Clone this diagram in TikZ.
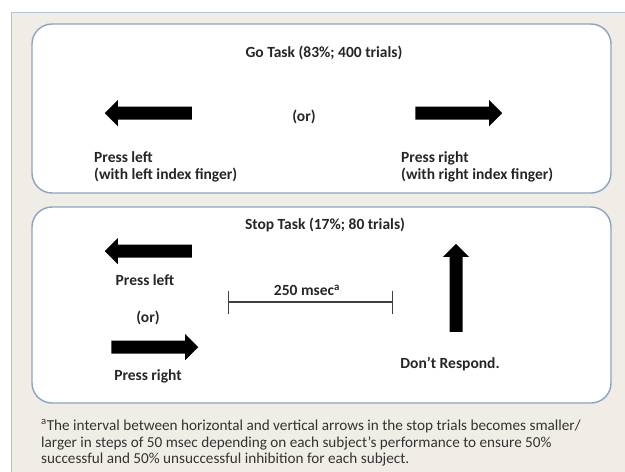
\documentclass[tikz,border=0pt]{standalone}
\usepackage{fontspec}
\setmainfont{Carlito}
\usetikzlibrary{shapes.arrows,arrows.meta}
\definecolor{beige}{HTML}{EFEDE5}
\definecolor{frameblue}{HTML}{B3C3D5}
\definecolor{boxblue}{HTML}{8DA3BF}
\tikzset{
  lbl/.style={font=\bfseries\fontsize{15.5}{17.5}\selectfont, inner sep=0pt, text=black!85},
  note/.style={font=\fontsize{15.2}{17}\selectfont, inner sep=0pt, anchor=west, text=black!80},
  blockarrow/.style={single arrow, fill=black, draw=none, inner sep=6.3pt,
    single arrow head extend=6.7pt, minimum height=87pt},
  panel/.style={draw=boxblue, line width=1.4pt, fill=white, rounded corners=20pt}
}
\begin{document}
\begin{tikzpicture}[x=1pt,y=-1pt]
\useasboundingbox (0,0) rectangle (625,472);
% background frame
\fill[beige] (11,12) rectangle (625,472);
\draw[frameblue, line width=0.8pt] (11,472) -- (11,12) -- (625,12);
% panels
\draw[panel] (32,24) rectangle (611,193);
\draw[panel] (32,207) rectangle (611,403);

% Go task
\node[lbl] (gotitle) at (324,53) {Go Task (83\%; 400 trials)};
\node[blockarrow, rotate=180] (goleft) at (151.5,113) {};
\node[blockarrow] (goright) at (455.5,113) {};
\node[lbl] (goor) at (304,117) {(or)};
\node[lbl, align=left, anchor=west] (goleftlbl) at (94,167) {Press left\\(with left index finger)};
\node[lbl, align=left, anchor=west] (gorightlbl) at (401,167) {Press right\\(with right index finger)};

% Stop task
\node[lbl] (stoptitle) at (325,225) {Stop Task (17\%; 80 trials)};
\node[blockarrow, rotate=180] (stopleft) at (151.5,251) {};
\node[lbl] (stopleftlbl) at (145,280) {Press left};
\node[lbl] (stopor) at (148,318) {(or)};
\node[blockarrow] (stopright) at (151.5,347) {};
\node[lbl] (stoprightlbl) at (148,376) {Press right};
\coordinate (ivl) at (228,302);
\coordinate (ivr) at (393,302);
\draw[black!75, line width=1.1pt, {Bar[width=23pt]}-{Bar[width=23pt]}] (ivl) -- (ivr);
\node[lbl] (interval) at (307,290) {250 msec\textsuperscript{a}};
\node[blockarrow, rotate=90, minimum height=88pt] (stopup) at (456,291) {};
\node[lbl] (dontresp) at (450,364) {Don’t Respond.};

% footnote
\node[note] (fn1) at (41,426) {\textsuperscript{a}The interval between horizontal and vertical arrows in the stop trials becomes smaller/};
\node[note] (fn2) at (41,443) {larger in steps of 50 msec depending on each subject’s performance to ensure 50\%};
\node[note] (fn3) at (41,460) {successful and 50\% unsuccessful inhibition for each subject.};
\end{tikzpicture}
\end{document}
